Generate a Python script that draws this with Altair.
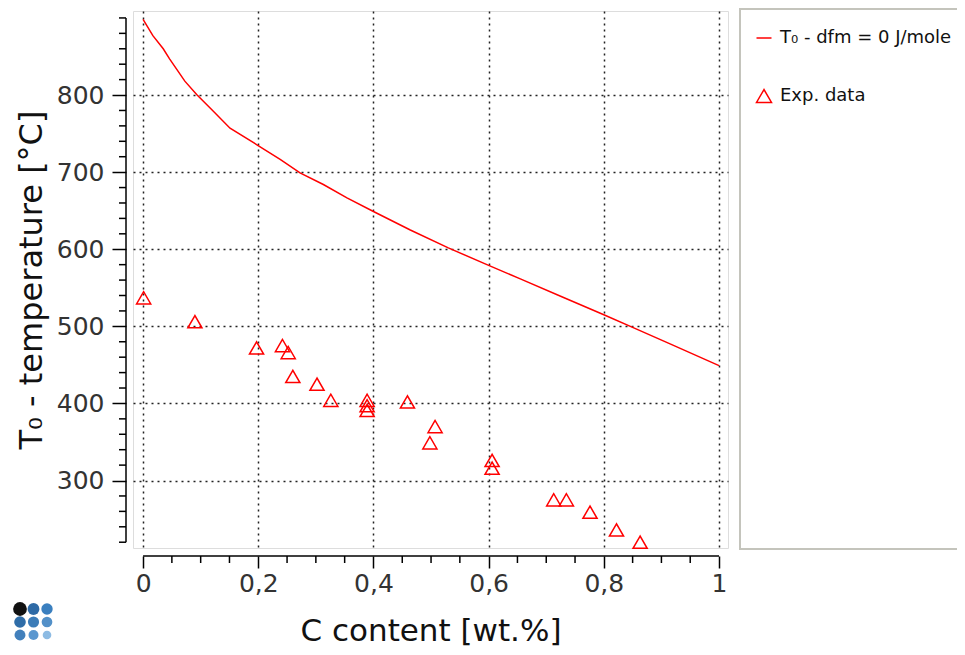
import altair as alt
import pandas as pd

# ---- data ----
line_c = [0.0, 0.017, 0.035, 0.046, 0.0725, 0.093, 0.122, 0.151, 0.197, 0.238, 0.2725,
          0.313, 0.354, 0.400, 0.464, 0.530, 0.597, 0.655, 0.725, 0.800, 0.852, 0.916, 1.0]
line_t = [898, 877, 860, 847, 818, 800.6, 779, 757, 735.8, 716.5, 699,
          684, 666.7, 649, 625, 601.8, 580, 561.6, 539, 515, 498, 477, 449]

exp_c = [0.001, 0.090, 0.197, 0.242, 0.252, 0.260, 0.302, 0.326, 0.389, 0.389, 0.389,
         0.459, 0.507, 0.498, 0.606, 0.606, 0.713, 0.735, 0.776, 0.822, 0.863]
exp_t = [537, 506, 472, 475, 466, 435, 425, 404, 404, 397, 391,
         402, 370, 349, 326, 316, 275, 275, 259, 236, 220]

x_major = [0, 0.2, 0.4, 0.6, 0.8, 1.0]
x_minor = [0.05, 0.1, 0.15, 0.25, 0.3, 0.35, 0.45, 0.5, 0.55, 0.65, 0.7, 0.75,
           0.85, 0.9, 0.95]
y_major = [300, 400, 500, 600, 700, 800]
y_minor = [220, 240, 260, 280, 320, 340, 360, 380, 420, 440, 460, 480, 520, 540,
           560, 580, 620, 640, 660, 680, 720, 740, 760, 780, 820, 840, 860, 880, 900]

line_label = "T\u2080 - dfm = 0 J/mole"
exp_label = "Exp. data"
series_names = [line_label, exp_label]

# logo dot grid
logo_col = [0, 1, 2, 0, 1, 2, 0, 1, 2]
logo_row = [0, 0, 0, 1, 1, 1, 2, 2, 2]
logo_color = ["#111111", "#2e6aa6", "#3a7fbf", "#2f6da8", "#3c7cb8", "#5390c8",
              "#4280bc", "#5b97cf", "#8dbbe3"]
logo_size = [190, 140, 130, 135, 125, 115, 120, 100, 75]

# ---- layout ----
W, H = 595, 537
FONT = "DejaVu Sans"
RED = "#ff0000"

line_df = pd.DataFrame({"c": line_c, "t": line_t})
exp_df = pd.DataFrame({"c": exp_c, "t": exp_t, "series": exp_label})
xminor_df = pd.DataFrame({"v": x_minor})
yminor_df = pd.DataFrame({"v": y_minor})
xline_df = pd.DataFrame({"a": [0.0], "b": [1.0]})
yline_df = pd.DataFrame({"a": [220], "b": [900]})
logo_df = pd.DataFrame({"lx": logo_col, "ly": logo_row, "lc": logo_color, "ls": logo_size})

xs = alt.Scale(domain=[-0.0175, 1.0156], nice=False, zero=False)
ys = alt.Scale(domain=[212.5, 909], nice=False, zero=False)

x_axis = alt.Axis(
    values=x_major, domain=False, offset=8, tickSize=12, tickColor="#000", tickWidth=1.5,
    grid=True, gridColor="#222", gridDash=[2, 4], gridWidth=1.5,
    labelExpr="replace(format(datum.value, '.1~f'), '.', ',')",
    labelFont=FONT, labelFontSize=25, labelColor="#333", labelPadding=3,
    title="C content [wt.%]", titleFont=FONT, titleFontSize=31, titleFontWeight="normal",
    titleColor="#111", titlePadding=20,
)
y_axis = alt.Axis(
    values=y_major, domain=False, offset=7, tickSize=14, tickColor="#000", tickWidth=1.5,
    grid=True, gridColor="#222", gridDash=[2, 4], gridWidth=1.5,
    labelFont=FONT, labelFontSize=25, labelColor="#333", labelPadding=8,
    title="T\u2080 - temperature [\u00b0C]", titleFont=FONT, titleFontSize=32,
    titleFontWeight="normal", titleColor="#111", titlePadding=8,
)

def X(field):
    return alt.X(field, type="quantitative", scale=xs, axis=x_axis)

def Y(field):
    return alt.Y(field, type="quantitative", scale=ys, axis=y_axis)

frame = alt.Chart(pd.DataFrame({"k": [0]})).mark_rect(
    fill="white", stroke="#c4c4bc", strokeWidth=2
).encode(x=alt.value(607), x2=alt.value(845), y=alt.value(-2), y2=alt.value(538))

line = alt.Chart(line_df).mark_line(color=RED, strokeWidth=1.5).encode(x=X("c"), y=Y("t"))

points = alt.Chart(exp_df).mark_point(
    filled=False, color=RED, size=200, strokeWidth=1.5, opacity=1
).encode(
    x=X("c"), y=Y("t"),
    shape=alt.Shape(
        "series:N",
        scale=alt.Scale(domain=series_names, range=["M-1,0L1,0", "triangle-up"]),
        legend=alt.Legend(
            title=None, orient="none", legendX=622, legendY=18, padding=0,
            symbolSize=225, symbolStrokeColor=RED, symbolFillColor="transparent",
            symbolStrokeWidth=1.5, labelFont=FONT, labelFontSize=18, labelColor="#111",
            labelOffset=7, rowPadding=39, labelLimit=400,
        ),
    ),
)

xminor = alt.Chart(xminor_df).mark_rule(color="#000", strokeWidth=1.5).encode(
    x=X("v"), y=alt.value(H + 8), y2=alt.value(H + 15)
)
yminor = alt.Chart(yminor_df).mark_rule(color="#000", strokeWidth=1.5).encode(
    y=Y("v"), x=alt.value(-7), x2=alt.value(-14)
)
xline = alt.Chart(xline_df).mark_rule(color="#000", strokeWidth=1.5).encode(
    x=X("a"), x2="b", y=alt.value(H + 8)
)
yline = alt.Chart(yline_df).mark_rule(color="#000", strokeWidth=1.5).encode(
    y=Y("a"), y2="b", x=alt.value(-7)
)

main = alt.layer(frame, line, points, xminor, yminor, xline, yline)

logo = alt.Chart(logo_df).mark_circle(opacity=1).encode(
    x=alt.X("lx:Q", scale=alt.Scale(domain=[0, 2], range=[-113, -86]), axis=None),
    y=alt.Y("ly:Q", scale=alt.Scale(domain=[0, 2], range=[598, 624]), axis=None),
    color=alt.Color("lc:N", scale=None),
    size=alt.Size("ls:Q", scale=None),
)

chart = alt.layer(main, logo).resolve_scale(
    x="independent", y="independent", color="independent", size="independent"
).properties(
    width=W, height=H,
    autosize=alt.AutoSizeParams(type="none"),
    padding={"left": 125, "top": 3, "right": 229, "bottom": 99},
).configure_view(
    stroke="#222", strokeWidth=2
).configure(background="white")

chart.save("out.html", embed_options={"renderer": "svg", "actions": False})
